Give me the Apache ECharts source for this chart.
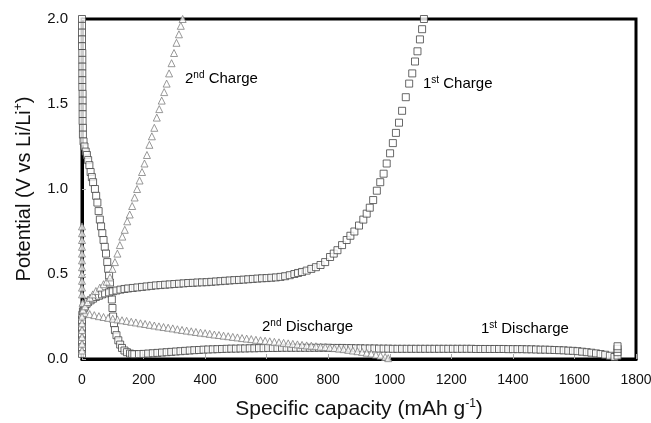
<!DOCTYPE html>
<html>
<head>
<meta charset="utf-8">
<script src="https://cdn.jsdelivr.net/npm/echarts@6/dist/echarts.min.js"></script>
<style>
  html, body { margin: 0; padding: 0; background: #fff; }
  #chart { width: 651px; height: 423px; }
</style>
</head>
<body>
<div id="chart"></div>
<script>
// [capacity mAh/g, potential V]
var discharge1 = [
  [0, 2.0], [0, 1.96], [0, 1.92], [0, 1.88], [0, 1.84], [1, 1.8], [1, 1.76], [1, 1.72], [1, 1.68],
  [1, 1.64], [1, 1.6], [2, 1.56], [2, 1.52], [2, 1.48], [2, 1.44], [2, 1.4], [3, 1.36], [3, 1.32],
  [5, 1.28], [8, 1.25], [12, 1.22], [16, 1.2], [20, 1.17], [24, 1.14], [28, 1.1], [32, 1.07],
  [36, 1.04], [42, 1.0], [46, 0.96], [50, 0.92], [54, 0.87], [58, 0.82], [62, 0.78], [66, 0.74],
  [70, 0.7], [74, 0.66], [78, 0.62], [82, 0.57], [85, 0.53], [88, 0.49], [91, 0.45], [94, 0.4],
  [97, 0.35], [99, 0.3], [101, 0.25], [104, 0.21], [107, 0.17], [112, 0.14], [118, 0.11],
  [124, 0.085], [130, 0.065], [138, 0.05], [146, 0.04], [156, 0.032], [163, 0.029],
  [170, 0.028], [185, 0.029], [200, 0.030], [215, 0.032], [230, 0.034], [245, 0.036], [260, 0.038],
  [275, 0.040], [290, 0.042], [305, 0.044], [320, 0.046], [335, 0.048], [350, 0.050], [365, 0.052],
  [380, 0.053], [395, 0.055], [410, 0.056], [425, 0.057], [440, 0.058], [455, 0.059], [470, 0.060],
  [485, 0.061], [500, 0.061], [515, 0.062], [530, 0.062], [545, 0.063], [560, 0.063], [575, 0.064],
  [590, 0.064], [605, 0.065], [620, 0.065], [635, 0.065], [650, 0.066], [665, 0.066], [680, 0.066],
  [695, 0.066], [710, 0.066], [725, 0.066], [740, 0.066], [755, 0.066], [770, 0.066], [785, 0.066],
  [800, 0.066], [815, 0.065], [830, 0.065], [845, 0.065], [860, 0.064], [875, 0.064], [890, 0.063],
  [905, 0.063], [920, 0.062], [935, 0.062], [950, 0.062], [965, 0.061], [980, 0.061], [995, 0.061],
  [1010, 0.060], [1025, 0.060], [1040, 0.060], [1055, 0.060], [1070, 0.060], [1085, 0.060],
  [1100, 0.060], [1115, 0.060], [1130, 0.060], [1145, 0.060], [1160, 0.060], [1175, 0.060],
  [1190, 0.060], [1205, 0.060], [1220, 0.060], [1235, 0.060], [1250, 0.060], [1265, 0.060],
  [1280, 0.059], [1295, 0.059], [1310, 0.059], [1325, 0.059], [1340, 0.059], [1355, 0.059],
  [1370, 0.059], [1385, 0.058], [1400, 0.058], [1415, 0.058], [1430, 0.058], [1445, 0.057],
  [1460, 0.057], [1475, 0.056], [1490, 0.055], [1505, 0.055], [1520, 0.054], [1535, 0.053],
  [1550, 0.052], [1565, 0.051], [1580, 0.049], [1595, 0.048], [1610, 0.046], [1625, 0.043],
  [1640, 0.040], [1655, 0.037], [1670, 0.033], [1685, 0.029], [1700, 0.025], [1715, 0.019],
  [1730, 0.012], [1740, 0.02], [1740, 0.04], [1740, 0.06], [1740, 0.075]
];
var charge1 = [
  [0, 0.03], [0, 0.07], [0, 0.11], [0, 0.15], [0, 0.19], [0, 0.23], [1, 0.26], [3, 0.28], [6, 0.3],
  [10, 0.31], [15, 0.325], [20, 0.335], [28, 0.345], [36, 0.355], [45, 0.365], [55, 0.372],
  [65, 0.38], [75, 0.386], [88, 0.392], [100, 0.398], [112, 0.403], [125, 0.408], [138, 0.412],
  [150, 0.415], [165, 0.418], [180, 0.421], [195, 0.424], [210, 0.427], [225, 0.43], [240, 0.433],
  [255, 0.435], [270, 0.437], [285, 0.439], [300, 0.441], [315, 0.443], [330, 0.445], [345, 0.447],
  [360, 0.448], [375, 0.45], [390, 0.451], [405, 0.452], [420, 0.454], [435, 0.456], [450, 0.458],
  [465, 0.46], [480, 0.462], [495, 0.464], [510, 0.465], [525, 0.467], [540, 0.469], [555, 0.471],
  [570, 0.473], [585, 0.475], [600, 0.476], [615, 0.478], [630, 0.48], [645, 0.483], [660, 0.487],
  [675, 0.493], [690, 0.5], [702, 0.506], [715, 0.512], [730, 0.52], [745, 0.53], [760, 0.54],
  [775, 0.553], [790, 0.57], [806, 0.6], [818, 0.62], [830, 0.64], [845, 0.67], [860, 0.7],
  [872, 0.725], [885, 0.75], [900, 0.785], [914, 0.82], [925, 0.855], [935, 0.89], [946, 0.935],
  [958, 0.99], [969, 1.04], [980, 1.09], [990, 1.15], [1001, 1.21], [1010, 1.27], [1020, 1.33],
  [1030, 1.39], [1040, 1.46], [1052, 1.54], [1063, 1.62], [1073, 1.68], [1082, 1.75], [1090, 1.81],
  [1098, 1.88], [1105, 1.94], [1111, 2.0]
];
var discharge2 = [
  [0, 0.78], [0, 0.74], [0, 0.7], [0, 0.66], [0, 0.62], [0, 0.58], [0, 0.54], [0, 0.5], [0, 0.46],
  [0, 0.42], [0, 0.38], [2, 0.33], [5, 0.29], [10, 0.27], [25, 0.264], [40, 0.258], [55, 0.252],
  [70, 0.247], [85, 0.242], [100, 0.237], [115, 0.233], [130, 0.228], [145, 0.224], [160, 0.219],
  [175, 0.215], [190, 0.21], [205, 0.206], [220, 0.201], [235, 0.197], [250, 0.192], [265, 0.188],
  [280, 0.184], [295, 0.18], [310, 0.175], [325, 0.171], [340, 0.167], [355, 0.163], [370, 0.159],
  [385, 0.155], [400, 0.152], [415, 0.148], [430, 0.144], [445, 0.141], [460, 0.137], [475, 0.134],
  [490, 0.13], [505, 0.127], [520, 0.123], [535, 0.12], [550, 0.117], [565, 0.113], [580, 0.11],
  [595, 0.107], [610, 0.104], [625, 0.101], [640, 0.098], [655, 0.095], [670, 0.092], [685, 0.089],
  [700, 0.086], [715, 0.083], [730, 0.08], [745, 0.078], [760, 0.075], [775, 0.072], [790, 0.07],
  [805, 0.067], [820, 0.064], [835, 0.061], [850, 0.058], [865, 0.054], [880, 0.05], [895, 0.046],
  [910, 0.042], [925, 0.037], [940, 0.032], [955, 0.026], [970, 0.02], [985, 0.012], [995, 0.005]
];
var charge2 = [
  [0, 0.05], [0, 0.09], [0, 0.13], [0, 0.17], [0, 0.21], [0, 0.25], [3, 0.29], [10, 0.31],
  [18, 0.335], [26, 0.36], [35, 0.38], [45, 0.4], [58, 0.42], [70, 0.44], [80, 0.455], [91, 0.48],
  [99, 0.53], [107, 0.57], [115, 0.62], [123, 0.67], [131, 0.72], [139, 0.76], [147, 0.81],
  [155, 0.85], [163, 0.9], [171, 0.95], [179, 1.0], [187, 1.05], [195, 1.1], [203, 1.15],
  [211, 1.2], [219, 1.26], [227, 1.31], [235, 1.36], [243, 1.42], [251, 1.47], [259, 1.52],
  [267, 1.57], [275, 1.62], [283, 1.68], [291, 1.74], [299, 1.8], [307, 1.86], [315, 1.91],
  [321, 1.96], [327, 2.0]
];
var xTicks = { min: 0, max: 1800, step: 200 };
var yTicks = { min: 0, max: 2, step: 0.5 };

var chart = echarts.init(document.getElementById('chart'));

var font = 'Liberation Sans, Arial, sans-serif';
var rich = {
  t: { fontSize: 15, fontFamily: font, color: '#111', lineHeight: 18 },
  s: { fontSize: 10, fontFamily: font, color: '#111', lineHeight: 18, padding: [0, 0, 8, 0] }
};

function label(x, y, num, sup, word) {
  return {
    type: 'text',
    left: x,
    top: y,
    style: {
      text: '{t|' + num + '}{s|' + sup + '}{t| ' + word + '}',
      rich: rich
    }
  };
}

var option = {
  animation: false,
  backgroundColor: '#fff',
  grid: {
    left: 82,
    right: 15,
    top: 19,
    bottom: 64,
    outerBoundsMode: 'none',
    show: true,
    borderColor: '#000',
    borderWidth: 3
  },
  xAxis: {
    type: 'value',
    min: xTicks.min,
    max: xTicks.max,
    interval: xTicks.step,
    name: '{n|Specific capacity (mAh g}{s|-1}{n|)}',
    nameLocation: 'middle',
    nameGap: 38,
    nameTextStyle: {
      rich: {
        n: { fontSize: 21, fontFamily: font, color: '#111', lineHeight: 24 },
        s: { fontSize: 12, fontFamily: font, color: '#111', lineHeight: 24, padding: [0, 0, 10, 0] }
      }
    },
    axisLine: { show: true, lineStyle: { color: '#000', width: 3 } },
    axisTick: { show: true, inside: true, length: 5, lineStyle: { color: '#aaa' } },
    axisLabel: {
      fontSize: 14, fontFamily: font, color: '#111', margin: 14,
      formatter: function (v) { return String(v); }
    },
    splitLine: { show: false }
  },
  yAxis: {
    type: 'value',
    min: yTicks.min,
    max: yTicks.max,
    interval: yTicks.step,
    name: '{n|Potential (V vs Li/Li}{s|+}{n|)}',
    nameLocation: 'middle',
    nameGap: 46,
    nameTextStyle: {
      rich: {
        n: { fontSize: 20, fontFamily: font, color: '#111', lineHeight: 24 },
        s: { fontSize: 12, fontFamily: font, color: '#111', lineHeight: 24, padding: [0, 0, 10, 0] }
      }
    },
    axisLine: { show: true, lineStyle: { color: '#000', width: 3 } },
    axisTick: { show: true, inside: true, length: 4, lineStyle: { color: '#aaa' } },
    axisLabel: {
      fontSize: 15, fontFamily: font, color: '#111', margin: 14,
      formatter: function (v) { return v.toFixed(1); }
    },
    splitLine: { show: false }
  },
  graphic: [
    label(185, 70, '2', 'nd', 'Charge'),
    label(423, 75, '1', 'st', 'Charge'),
    label(262, 318, '2', 'nd', 'Discharge'),
    label(481, 320, '1', 'st', 'Discharge')
  ],
  series: [
    {
      name: '1st Discharge',
      type: 'scatter',
      symbol: 'rect',
      symbolSize: 7,
      itemStyle: { color: '#fff', borderColor: '#444', borderWidth: 1 },
      data: discharge1
    },
    {
      name: '1st Charge',
      type: 'scatter',
      symbol: 'rect',
      symbolSize: 7,
      itemStyle: { color: '#fff', borderColor: '#444', borderWidth: 1 },
      data: charge1
    },
    {
      name: '2nd Discharge',
      type: 'scatter',
      symbol: 'triangle',
      symbolSize: 7,
      itemStyle: { color: '#fff', borderColor: '#808080', borderWidth: 1 },
      data: discharge2
    },
    {
      name: '2nd Charge',
      type: 'scatter',
      symbol: 'triangle',
      symbolSize: 7,
      itemStyle: { color: '#fff', borderColor: '#808080', borderWidth: 1 },
      data: charge2
    }
  ]
};

chart.setOption(option);
</script>
</body>
</html>
